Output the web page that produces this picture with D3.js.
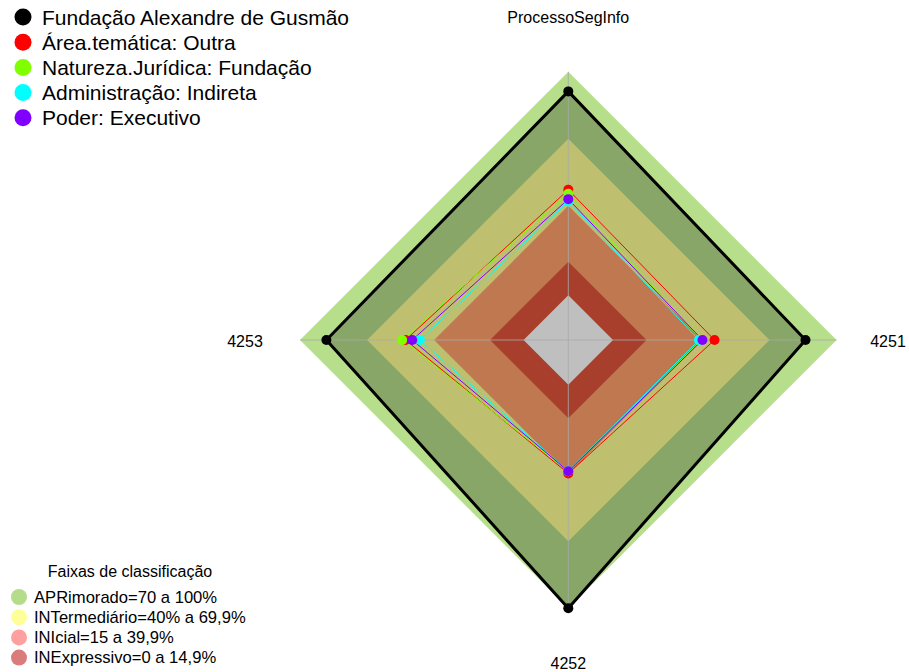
<!DOCTYPE html>
<html>
<head>
<meta charset="utf-8">
<script src="https://cdn.jsdelivr.net/npm/d3@7"></script>
<style>
  html, body { margin: 0; padding: 0; background: #fff; }
  svg { display: block; font-family: Arial, "Liberation Sans", sans-serif; }
</style>
</head>
<body>
<svg id="chart" width="909" height="672"></svg>
<script>
// Axes, clockwise from the top
const categories = ["ProcessoSegInfo", "4251", "4252", "4253"];

// Series (percent scores per axis)
const seriesNames = [
  "Fundação Alexandre de Gusmão",
  "Área.temática: Outra",
  "Natureza.Jurídica: Fundação",
  "Administração: Indireta",
  "Poder: Executivo"
];
const fundacaoValues   = [91.2, 86.1, 100, 88.2];
const areaValues       = [47.2, 45.4, 39.7, 52.8];
const naturezaValues   = [45.4, 39.5, 38.7, 54.3];
const administracaoValues = [42.0, 38.4, 38.7, 46.4];
const poderValues      = [43.0, 40.0, 38.7, 49.8];
const seriesValues = [fundacaoValues, areaValues, naturezaValues, administracaoValues, poderValues];
const seriesColors = ["#000000", "#ff0000", "#7fff00", "#00ffff", "#8000ff"];

// Classification bands (upper limit of each band, percent)
const bandLabels = [
  "APRimorado=70 a 100%",
  "INTermediário=40% a 69,9%",
  "INIcial=15 a 39,9%",
  "INExpressivo=0 a 14,9%"
];
const bandLimits = [100, 70, 40, 15];
const bandFills = ["#b6de8b", "#ffff96", "#ffa06b", "#e0553b"];
const bandLegendColors = ["#b4dc8a", "#ffff99", "#ffa0a0", "#da7c7c"];
const legendTitle = "Faixas de classificação";

const svg = d3.select("#chart");
const cx = 568.3, cy = 340, R = 268.3;
const r0 = R / 6; // centre hole

const rScale = d3.scaleLinear().domain([0, 100]).range([r0, R]);
const angle = d3.scaleBand().domain(categories).range([0, 2 * Math.PI]).paddingInner(0).paddingOuter(0);
const ang = c => angle(c) - Math.PI / 2;

const pt = (c, v) => [cx + rScale(v) * Math.cos(ang(c)), cy + rScale(v) * Math.sin(ang(c))];
const polyAt = vals => categories.map((c, i) => pt(c, vals[i]));
const line = d3.line().curve(d3.curveLinearClosed);

const g = svg.append("g");

// Bands, outermost first
bandLimits.forEach((lim, i) => {
  g.append("path")
    .attr("d", line(categories.map(c => pt(c, lim))))
    .attr("fill", bandFills[i]);
});
// Centre hole
g.append("path")
  .attr("d", line(categories.map(c => pt(c, 0))))
  .attr("fill", "#ffffff");

// Fundação polygon shading
g.append("path")
  .attr("d", line(polyAt(fundacaoValues)))
  .attr("fill", "rgba(0,0,0,0.25)");

// Axis spokes
categories.forEach(c => {
  const [x2, y2] = pt(c, 100);
  g.append("line")
    .attr("x1", cx).attr("y1", cy)
    .attr("x2", x2).attr("y2", y2)
    .attr("stroke", "#aaaaaa").attr("stroke-opacity", 0.8).attr("stroke-width", 1);
});

// Series lines and points
seriesValues.forEach((vals, s) => {
  g.append("path")
    .attr("d", line(polyAt(vals)))
    .attr("fill", "none")
    .attr("stroke", seriesColors[s])
    .attr("stroke-width", s === 0 ? 3 : 1)
    .attr("stroke-linejoin", "round");
});
seriesValues.forEach((vals, s) => {
  g.selectAll(null).data(polyAt(vals)).enter().append("circle")
    .attr("cx", d => d[0]).attr("cy", d => d[1])
    .attr("r", 5)
    .attr("fill", seriesColors[s]);
});

// Axis labels
const labelPos = {
  "ProcessoSegInfo": [cx, 17],
  "4251": [888, 341],
  "4252": [cx, 663],
  "4253": [245, 341]
};
categories.forEach(c => {
  svg.append("text")
    .attr("x", labelPos[c][0]).attr("y", labelPos[c][1])
    .attr("text-anchor", "middle")
    .attr("dominant-baseline", "central")
    .attr("font-size", 16)
    .attr("fill", "#000")
    .text(c);
});

// Series legend
const leg = svg.append("g");
seriesNames.forEach((n, i) => {
  const y = 17 + i * 25.2;
  leg.append("circle").attr("cx", 23).attr("cy", y).attr("r", 8.5).attr("fill", seriesColors[i]);
  leg.append("text").attr("x", 42).attr("y", y).attr("dominant-baseline", "central")
    .attr("font-size", 21).attr("fill", "#000").text(n);
});

// Band legend
const bl = svg.append("g");
bl.append("text").attr("x", 130).attr("y", 571).attr("text-anchor", "middle")
  .attr("dominant-baseline", "central").attr("font-size", 16).attr("fill", "#000").text(legendTitle);
bandLabels.forEach((t, i) => {
  const y = 597 + i * 20.2;
  bl.append("circle").attr("cx", 19).attr("cy", y).attr("r", 8).attr("fill", bandLegendColors[i]);
  bl.append("text").attr("x", 34).attr("y", y).attr("dominant-baseline", "central")
    .attr("font-size", 16.6).attr("fill", "#000").text(t);
});
</script>
</body>
</html>
